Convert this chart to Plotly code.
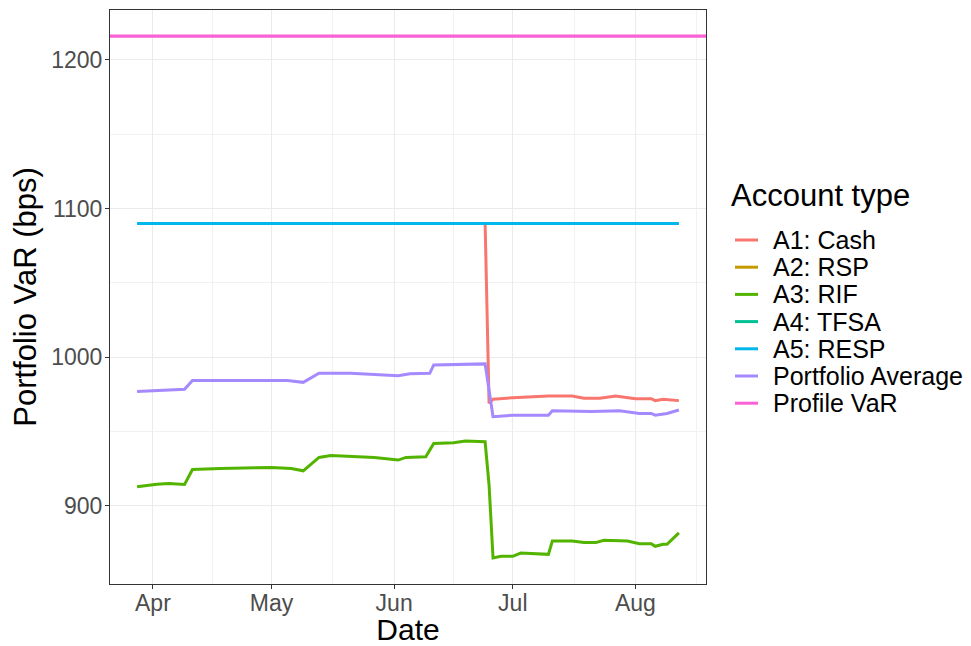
import pandas as pd
import plotly.graph_objects as go

# values (vertices of each line)
cash_dates = ["2019-06-24", "2019-06-25", "2019-06-26", "2019-07-01", "2019-07-10",
              "2019-07-16", "2019-07-19", "2019-07-23", "2019-07-27", "2019-08-01",
              "2019-08-05", "2019-08-06", "2019-08-08", "2019-08-12"]
cash_var = [1090, 969, 971.7, 972.8, 973.9, 973.9, 972.4, 972.4, 973.9, 972.1,
            972.1, 970.8, 971.7, 970.8]

rif_dates = ["2019-03-28", "2019-04-02", "2019-04-05", "2019-04-09", "2019-04-11",
             "2019-04-18", "2019-05-01", "2019-05-06", "2019-05-09", "2019-05-13",
             "2019-05-16", "2019-05-21", "2019-05-27", "2019-06-02", "2019-06-04",
             "2019-06-09", "2019-06-11", "2019-06-16", "2019-06-19", "2019-06-24",
             "2019-06-25", "2019-06-26", "2019-06-28", "2019-07-01", "2019-07-03",
             "2019-07-10", "2019-07-11", "2019-07-16", "2019-07-19", "2019-07-22",
             "2019-07-24", "2019-07-30", "2019-08-02", "2019-08-05", "2019-08-06",
             "2019-08-08", "2019-08-09", "2019-08-12"]
rif_var = [912.8, 914.6, 915.0, 914.4, 924.5, 925.2, 925.8, 925.2, 923.6, 932.6,
           933.9, 933.5, 932.6, 930.8, 932.6, 933.0, 942.0, 942.5, 943.6, 943.1,
           913.9, 865.0, 866.1, 866.1, 868.3, 867.4, 876.4, 876.4, 875.3, 875.3,
           876.9, 876.4, 874.6, 874.6, 872.8, 874.2, 874.2, 881.8]

resp_dates = ["2019-03-28", "2019-08-12"]
resp_var = [1090, 1090]

avg_dates = ["2019-03-28", "2019-04-09", "2019-04-11", "2019-05-05", "2019-05-09",
             "2019-05-13", "2019-05-21", "2019-06-02", "2019-06-05", "2019-06-10",
             "2019-06-11", "2019-06-24", "2019-06-26", "2019-07-01", "2019-07-10",
             "2019-07-11", "2019-07-21", "2019-07-28", "2019-08-02", "2019-08-05",
             "2019-08-06", "2019-08-09", "2019-08-12"]
avg_var = [976.9, 978.4, 984.3, 984.3, 983.1, 989.2, 989.2, 987.6, 988.8, 989.2,
           994.8, 995.5, 960.0, 961.0, 961.0, 964.0, 963.4, 964.0, 962.2, 962.2,
           961.0, 962.2, 964.5]

profile_var = 1216

month_ticks = ["2019-04-01", "2019-05-01", "2019-06-01", "2019-07-01", "2019-08-01"]
month_labels = ["Apr", "May", "Jun", "Jul", "Aug"]
y_ticks = [900, 1000, 1100, 1200]

legend_names = ["A1: Cash", "A2: RSP", "A3: RIF", "A4: TFSA", "A5: RESP",
                "Portfolio Average", "Profile VaR"]
legend_colors = ["#F8766D", "#C49A00", "#53B400", "#00C094", "#00B6EB", "#A58AFF", "#FB61D7"]
col = dict(zip(legend_names, legend_colors))

font = "Liberation Sans, Arial, sans-serif"

fig = go.Figure()
for name, xs, ys in [("A1: Cash", cash_dates, cash_var),
                     ("A3: RIF", rif_dates, rif_var),
                     ("A5: RESP", resp_dates, resp_var),
                     ("Portfolio Average", avg_dates, avg_var)]:
    fig.add_trace(go.Scatter(x=pd.to_datetime(xs), y=ys, mode="lines", name=name,
                             line=dict(color=col[name], width=3), showlegend=False))

fig.add_hline(y=profile_var, line=dict(color=col["Profile VaR"], width=3.2), layer="above")

# ggplot-style 5% expansion
all_dates = pd.to_datetime(cash_dates + rif_dates + resp_dates + avg_dates)
span = all_dates.max() - all_dates.min()
xr = [all_dates.min() - span * 0.05, all_dates.max() + span * 0.05]
all_vals = cash_var + rif_var + resp_var + avg_var + [profile_var]
vspan = max(all_vals) - min(all_vals)
yr = [min(all_vals) - vspan * 0.05, max(all_vals) + vspan * 0.05]

mt = pd.to_datetime(month_ticks)
minor_x = [mt[0] - (mt[1] - mt[0]) / 2] + [mt[i] + (mt[i + 1] - mt[i]) / 2 for i in range(len(mt) - 1)] \
    + [mt[-1] + (mt[-1] - mt[-2]) / 2]
minor_y = [v + 50 for v in [850] + y_ticks]

# page body has an 8px margin, so shrink the figure to fit the 971x646 window
OFF = 8
W, H = 971 - OFF, 646 - OFF
ml, mr, mtop, mb = 110 - OFF, 265, 10 - OFF, 62
pw, ph = W - ml - mr, H - mtop - mb


def px(x):
    return (x - OFF - ml) / pw


def py(y):
    return (H - mb - (y - OFF)) / ph


# manual legend (ggplot spacing)
fig.add_annotation(text="Account type", xref="paper", yref="paper", x=px(729), y=py(195),
                   xanchor="left", yanchor="middle", showarrow=False,
                   font=dict(size=31, color="black", family=font))
for i, name in enumerate(legend_names):
    yy = 240 + i * 27.2
    fig.add_shape(type="line", xref="paper", yref="paper", x0=px(735), x1=px(758),
                  y0=py(yy), y1=py(yy), line=dict(color=col[name], width=3))
    fig.add_annotation(text=name, xref="paper", yref="paper", x=px(771), y=py(yy),
                       xanchor="left", yanchor="middle", showarrow=False,
                       font=dict(size=25, color="black", family=font))

fig.update_layout(
    width=W, height=H,
    margin=dict(l=ml, r=mr, t=mtop, b=mb),
    paper_bgcolor="white", plot_bgcolor="white",
    font=dict(family=font, color="black"),
    showlegend=False,
    xaxis=dict(range=xr, tickvals=mt, ticktext=month_labels, automargin=False,
               tickfont=dict(size=23, color="#4D4D4D"), ticklabelstandoff=-6,
               title=dict(text="Date", font=dict(size=30), standoff=10),
               showgrid=True, gridcolor="#EBEBEB", gridwidth=1.3,
               minor=dict(tickvals=minor_x, showgrid=True, gridcolor="#F2F2F2", gridwidth=0.8),
               ticks="outside", ticklen=4, tickcolor="#333333",
               showline=True, linecolor="#333333", mirror=True, zeroline=False),
    yaxis=dict(range=yr, tickvals=y_ticks, automargin=False,
               tickfont=dict(size=23, color="#4D4D4D"), ticklabelstandoff=-2,
               title=dict(text="Portfolio VaR (bps)", font=dict(size=31), standoff=7),
               showgrid=True, gridcolor="#EBEBEB", gridwidth=1.3,
               minor=dict(tickvals=minor_y, showgrid=True, gridcolor="#F2F2F2", gridwidth=0.8),
               ticks="outside", ticklen=4, tickcolor="#333333",
               showline=True, linecolor="#333333", mirror=True, zeroline=False),
)

fig.write_html("out.html")
